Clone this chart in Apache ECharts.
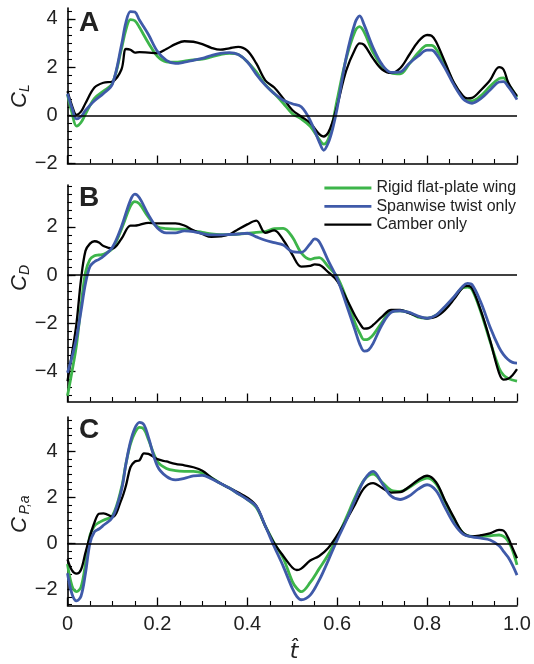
<!DOCTYPE html>
<html>
<head>
<meta charset="utf-8">
<script src="https://cdn.jsdelivr.net/npm/echarts@6/dist/echarts.min.js"></script>
<style>
  html, body { margin: 0; padding: 0; background: #fff; }
  #chart { width: 534px; height: 664px; }
</style>
</head>
<body>
<div id="chart"></div>
<script>
// Normalised stroke time for each panel
const tA = [0,0.01,0.02,0.03,0.04,0.06,0.08,0.10,0.12,0.13,0.14,0.15,0.16,0.18,0.20,0.22,0.24,0.26,0.28,0.30,0.32,0.34,0.36,0.38,0.40,0.42,0.44,0.46,0.48,0.50,0.52,0.54,0.56,0.57,0.58,0.59,0.60,0.62,0.64,0.65,0.66,0.68,0.70,0.72,0.74,0.76,0.78,0.80,0.81,0.82,0.84,0.86,0.88,0.89,0.90,0.92,0.94,0.96,0.97,0.98,0.99,1.0];
// Lift coefficient C_L
const clRigid  = [0.85,0.1,-0.45,-0.3,0.05,0.7,1.0,1.33,2.75,3.55,3.97,3.92,3.65,3.0,2.45,2.22,2.2,2.25,2.3,2.33,2.42,2.52,2.57,2.52,2.22,1.8,1.27,0.9,0.5,0.07,-0.15,-0.46,-1.0,-1.2,-1.0,-0.3,0.65,2.35,3.5,3.68,3.45,2.6,2.04,1.76,1.72,2.12,2.59,2.9,2.9,2.75,2.1,1.3,0.72,0.6,0.6,0.82,1.2,1.52,1.55,1.3,1.05,0.75];
const clTwist  = [0.9,0.3,-0.15,-0.05,0.2,0.6,0.9,1.3,2.9,3.85,4.3,4.28,3.95,3.35,2.65,2.28,2.15,2.2,2.28,2.36,2.48,2.57,2.6,2.52,2.22,1.7,1.25,0.9,0.62,0.48,0.35,-0.22,-1.1,-1.45,-1.15,-0.55,0.3,2.4,3.85,4.12,3.75,2.8,2.1,1.78,1.8,2.15,2.45,2.7,2.7,2.55,1.95,1.25,0.68,0.55,0.5,0.7,1.05,1.38,1.4,1.2,0.95,0.65];
const clCamber = [1.0,0.4,0.02,0.15,0.5,1.15,1.35,1.4,1.9,2.75,2.72,2.6,2.62,2.6,2.58,2.75,2.95,3.07,3.05,2.95,2.8,2.72,2.78,2.84,2.68,2.15,1.45,1.15,0.7,0.22,-0.05,-0.32,-0.78,-0.88,-0.72,-0.25,0.4,1.85,2.75,2.98,2.92,2.35,1.9,1.76,1.95,2.5,3.05,3.33,3.3,3.05,2.2,1.35,0.8,0.7,0.72,1.05,1.45,2.0,1.9,1.38,1.05,0.8];

const tB = [0,0.01,0.02,0.03,0.04,0.05,0.06,0.07,0.08,0.10,0.12,0.14,0.15,0.16,0.18,0.20,0.22,0.24,0.26,0.28,0.30,0.32,0.34,0.36,0.38,0.40,0.42,0.44,0.46,0.48,0.50,0.52,0.54,0.55,0.56,0.58,0.60,0.62,0.64,0.65,0.66,0.67,0.68,0.70,0.72,0.74,0.76,0.78,0.80,0.82,0.84,0.86,0.88,0.89,0.90,0.92,0.94,0.96,0.97,0.98,0.99,1.0];
// Drag coefficient C_D
const cdRigid  = [-5.0,-4.0,-2.9,-1.3,0.1,0.65,0.8,0.83,0.86,1.1,1.9,2.85,3.04,2.95,2.4,2.0,1.92,1.9,1.9,1.82,1.77,1.7,1.67,1.67,1.7,1.73,1.77,1.8,1.92,1.93,1.58,0.92,0.65,0.7,0.72,0.35,-0.08,-0.95,-2.0,-2.4,-2.68,-2.65,-2.48,-1.95,-1.5,-1.48,-1.56,-1.75,-1.79,-1.66,-1.35,-0.93,-0.52,-0.5,-0.6,-1.55,-2.75,-3.85,-4.15,-4.28,-4.35,-4.4];
const cdTwist  = [-4.05,-3.4,-2.6,-1.5,-0.35,0.35,0.55,0.65,0.78,1.15,2.0,3.1,3.35,3.2,2.5,1.95,1.75,1.75,1.83,1.8,1.72,1.66,1.66,1.68,1.7,1.73,1.58,1.44,1.34,1.24,0.97,0.94,1.3,1.5,1.38,0.6,-0.15,-1.2,-2.3,-2.85,-3.15,-3.1,-2.83,-2.05,-1.55,-1.48,-1.55,-1.7,-1.79,-1.66,-1.3,-0.9,-0.45,-0.35,-0.4,-1.15,-2.15,-3.0,-3.3,-3.5,-3.62,-3.65];
const cdCamber = [-4.4,-3.25,-2.0,-0.2,1.0,1.3,1.4,1.35,1.2,1.1,1.5,2.05,2.05,2.08,2.16,2.14,2.14,2.14,2.05,1.85,1.7,1.58,1.6,1.68,1.9,2.1,2.25,1.75,1.85,1.45,0.85,0.35,0.38,0.44,0.42,0.12,-0.25,-0.95,-1.7,-2.0,-2.22,-2.2,-2.07,-1.72,-1.45,-1.45,-1.58,-1.72,-1.79,-1.73,-1.45,-1.0,-0.5,-0.45,-0.55,-1.5,-2.7,-4.05,-4.33,-4.3,-4.15,-3.9];

const tC = [0,0.01,0.02,0.03,0.04,0.05,0.06,0.07,0.08,0.10,0.12,0.13,0.14,0.15,0.16,0.17,0.18,0.20,0.22,0.24,0.26,0.28,0.30,0.32,0.34,0.36,0.38,0.40,0.42,0.44,0.46,0.48,0.50,0.51,0.52,0.54,0.56,0.58,0.60,0.62,0.64,0.66,0.68,0.70,0.72,0.74,0.76,0.78,0.80,0.82,0.84,0.86,0.88,0.90,0.92,0.94,0.96,0.97,0.98,0.99,1.0];
// Aerodynamic power coefficient C_P,a
const cpRigid  = [-0.9,-1.85,-2.1,-1.9,-0.9,0.35,0.75,0.9,1.0,1.2,2.4,3.45,4.3,4.8,5.03,4.95,4.5,3.55,3.25,3.15,3.12,3.12,3.05,2.85,2.6,2.4,2.15,1.9,1.55,0.75,0.0,-0.65,-1.65,-1.95,-2.1,-1.7,-1.1,-0.5,0.25,1.1,2.0,2.75,3.0,2.65,2.3,2.25,2.42,2.68,2.83,2.58,1.8,1.05,0.45,0.3,0.3,0.32,0.36,0.3,0.1,-0.3,-0.94];
const cpTwist  = [-1.3,-2.2,-2.5,-2.3,-1.3,0.0,0.5,0.62,0.78,1.12,2.3,3.45,4.4,5.0,5.25,5.15,4.6,3.35,2.9,2.75,2.82,2.92,2.95,2.8,2.6,2.4,2.15,1.9,1.6,0.75,-0.15,-1.0,-1.95,-2.3,-2.45,-2.25,-1.6,-0.75,0.15,0.98,1.9,2.75,3.12,2.6,2.05,1.9,2.05,2.35,2.54,2.28,1.55,0.85,0.4,0.28,0.22,0.14,-0.1,-0.35,-0.6,-0.95,-1.38];
const cpCamber = [-0.7,-1.18,-1.32,-1.15,-0.4,0.3,0.9,1.28,1.3,1.15,1.9,2.5,3.3,3.55,3.6,3.9,3.88,3.65,3.55,3.45,3.38,3.3,3.15,2.85,2.6,2.4,2.2,1.98,1.62,0.75,0.0,-0.55,-1.05,-1.16,-1.1,-0.75,-0.55,-0.2,0.35,1.0,1.7,2.4,2.61,2.4,2.2,2.22,2.45,2.75,2.93,2.65,1.85,1.1,0.45,0.3,0.35,0.43,0.58,0.55,0.25,-0.2,-0.65];

const seriesNames = ['Rigid flat-plate wing', 'Spanwise twist only', 'Camber only'];
const xTickLabels = ['0', '0.2', '0.4', '0.6', '0.8', '1.0'];
const yMajorA = [-2, 0, 2, 4];
const yMajorB = [-4, -2, 0, 2];
const yMajorC = [-2, 0, 2, 4];

const FONT = 'Liberation Sans, Arial, Helvetica, sans-serif';
const GREEN = '#3db54a';
const BLUE = '#3f5aa9';
const BLACK = '#000000';

// panel frames (pixels) and value ranges
const panels = [
  { top: 8,   height: 155.5, min: -2,    max: 4.45, major: yMajorA },
  { top: 185, height: 216.5, min: -5.24, max: 3.73, major: yMajorB },
  { top: 417, height: 188.5, min: -2.7,  max: 5.48, major: yMajorC }
];

function thirds(min, max) {
  const out = [];
  for (let k = Math.ceil(min * 3 - 1e-6); k <= Math.floor(max * 3 + 1e-6); k++) out.push(k / 3);
  return out;
}
const fmtY = v => (v < 0 ? '\u2212' + Math.abs(v) : String(v));
const zip = (t, v) => t.map((x, i) => [x, v[i]]);

const grid = [], xAxis = [], yAxis = [];
panels.forEach((p, i) => {
  grid.push({ left: 67.5, width: 449.5, top: p.top, height: p.height });
  xAxis.push({
    type: 'value', gridIndex: i, min: 0, max: 1, interval: 0.2,
    axisLine: { show: true, onZero: false, lineStyle: { color: '#000', width: 1.6 } },
    axisTick: { show: true, inside: true, length: 8, lineStyle: { color: '#000', width: 1.3 } },
    minorTick: { show: true, splitNumber: 4, length: 4.5, lineStyle: { color: '#000', width: 1.1 } },
    splitLine: { show: false }, minorSplitLine: { show: false },
    axisLabel: {
      show: i === 2, margin: 9, color: '#222', fontFamily: FONT, fontSize: 20,
      formatter: v => xTickLabels[Math.round(v / 0.2)]
    }
  });
  // major ticks + labels
  yAxis.push({
    type: 'value', gridIndex: i, min: p.min, max: p.max, position: 'left',
    axisLine: { show: true, onZero: false, lineStyle: { color: '#000', width: 1.6 } },
    axisTick: { show: true, inside: true, length: 8, customValues: p.major, lineStyle: { color: '#000', width: 1.3 } },
    axisLabel: { show: true, customValues: p.major, margin: 10, color: '#222', fontFamily: FONT, fontSize: 20, formatter: fmtY },
    splitLine: { show: false }
  });
  // minor ticks every third of a unit
  yAxis.push({
    type: 'value', gridIndex: i, min: p.min, max: p.max, position: 'left',
    axisLine: { show: false },
    axisTick: { show: true, inside: true, length: 4.5, customValues: thirds(p.min, p.max), lineStyle: { color: '#000', width: 1.1 } },
    axisLabel: { show: false },
    splitLine: { show: false }
  });
});

const panelData = [
  [tA, clRigid, clTwist, clCamber],
  [tB, cdRigid, cdTwist, cdCamber],
  [tC, cpRigid, cpTwist, cpCamber]
];
const styles = [
  { name: seriesNames[0], color: GREEN, width: 2.8, z: 2 },
  { name: seriesNames[1], color: BLUE, width: 2.8, z: 4 },
  { name: seriesNames[2], color: BLACK, width: 2.3, z: 3 }
];
const series = [];
panelData.forEach((pd, i) => {
  styles.forEach((s, j) => {
    const ser = {
      type: 'line', name: s.name, xAxisIndex: i, yAxisIndex: 2 * i, z: s.z,
      data: zip(pd[0], pd[j + 1]), smooth: 0.35, showSymbol: false, symbol: 'none',
      lineStyle: { color: s.color, width: s.width }, itemStyle: { color: s.color },
      clip: true, silent: true
    };
    if (j === 0) {
      ser.markLine = {
        silent: true, symbol: ['none', 'none'], label: { show: false },
        lineStyle: { color: '#000', width: 1.5, type: 'solid' },
        data: [{ yAxis: 0 }], animation: false
      };
    }
    series.push(ser);
  });
});

const graphic = [];
[['A', 23], ['B', 198], ['C', 430]].forEach(([letter, y]) => {
  graphic.push({ type: 'text', x: 79, y: y, style: { text: letter, font: 'bold 28px ' + FONT, fill: '#222', align: 'left', verticalAlign: 'middle' } });
});
// rotated axis titles: C with subscript
function yTitle(main, sub, cx, cy, sx, sy) {
  graphic.push({ type: 'text', x: cx, y: cy, rotation: Math.PI / 2, style: { text: main, font: 'italic 22px ' + FONT, fill: '#222', align: 'center', verticalAlign: 'middle' } });
  graphic.push({ type: 'text', x: sx, y: sy, rotation: Math.PI / 2, style: { text: sub, font: 'italic 14px ' + FONT, fill: '#222', align: 'center', verticalAlign: 'middle' } });
}
yTitle('C', 'L', 20, 100, 25, 88);
yTitle('C', 'D', 20, 283, 25, 270);
yTitle('C', 'P,a', 20, 525, 25, 505);
graphic.push({ type: 'text', x: 294, y: 652, style: { text: 't\u0302', font: 'italic 22px DejaVu Sans, ' + FONT, fill: '#222', align: 'center', verticalAlign: 'middle' } });

const chart = echarts.init(document.getElementById('chart'), null, { renderer: 'canvas' });
chart.setOption({
  animation: false,
  backgroundColor: '#fff',
  grid, xAxis, yAxis, series, graphic,
  legend: {
    data: seriesNames, orient: 'vertical', left: 323, top: 180, padding: 0,
    itemWidth: 47, itemHeight: 14, itemGap: 2.3,
    itemStyle: { opacity: 0 }, lineStyle: { width: 'inherit' },
    textStyle: { fontFamily: FONT, fontSize: 16, color: '#222' }, selectedMode: false
  }
});
</script>
</body>
</html>
